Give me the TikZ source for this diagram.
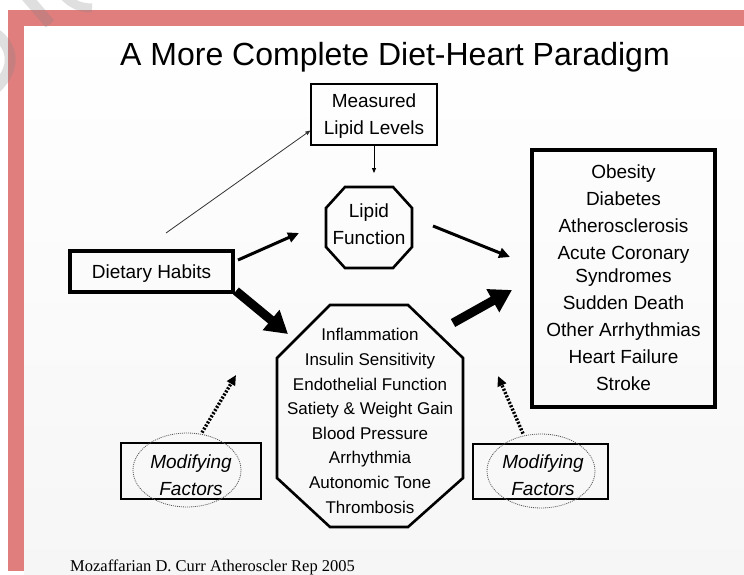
\documentclass[tikz,border=0pt]{standalone}
\usepackage{fontspec}
\setmainfont{Liberation Sans}
\newfontfamily\citefont{Liberation Serif}
\usetikzlibrary{arrows.meta,shapes.geometric}
\definecolor{band}{RGB}{224,126,126}
\begin{document}
\begin{tikzpicture}[x=1pt,y=-1pt,
  body/.style={font=\fontsize{19}{27}\selectfont, align=center, inner sep=0pt},
  box/.style={draw, line width=1.2pt, body},
  heavybox/.style={draw, line width=4pt, body},
  octo/.style={draw, line width=2.6pt, line join=miter},
  thinarr/.style={line width=0.8pt, -{Triangle[length=5pt,width=4pt]}},
  medarr/.style={line width=3pt, -{Triangle[length=11pt,width=10pt]}},
  bigarr/.style={line width=9pt, -{Triangle[length=22pt,width=25pt]}},
  dotarr/.style={line width=3.4pt, dash pattern=on 2pt off 1.6pt, -{Triangle[length=10pt,width=9pt]}},
  dotell/.style={ellipse, draw, gray!70!black, line width=0.8pt, dash pattern=on 1pt off 1pt, minimum width=108pt, minimum height=74pt, inner sep=0pt}
]
\useasboundingbox (0,0) rectangle (744,575);
\fill[white] (0,0) rectangle (744,575);
\shade[top color=white, bottom color=gray!7] (24,26) rectangle (744,575);
\fill[band] (8,10) rectangle (744,26);
\fill[band] (8,26) rectangle (24,571);
% watermark strokes
\draw[gray, opacity=0.25, line width=11pt] (26,-4) -- (50,24);
\draw[gray, opacity=0.25, line width=9pt] (64,-4) .. controls (72,4) and (80,8) .. (92,8);
\draw[gray, opacity=0.25, line width=11pt] (-4,34) .. controls (14,48) and (16,68) .. (-4,88);

% title
\node[font=\fontsize{32}{38}\selectfont, anchor=base, inner sep=0pt] (title) at (395,66) {A More Complete Diet-Heart Paradigm};

% boxes
\node[box, minimum width=126pt, minimum height=61pt] (meas) at (374,114.5) {};
\node[body] (meastext) at (374,116.5) {Measured\\Lipid Levels};
\node[heavybox, minimum width=163pt, minimum height=41pt] (diet) at (151.5,271.5) {};
\node[body] (diettext) at (151.5,274) {Dietary Habits};
\node[heavybox, minimum width=183pt, minimum height=257pt] (out) at (623.5,278.5) {};
\node[body, anchor=base] (outtext) at (623.5,390) {Obesity\\Diabetes\\Atherosclerosis\\Acute Coronary\\[-4pt]Syndromes\\Sudden Death\\Other Arrhythmias\\Heart Failure\\Stroke};

% lipid function octagon
\draw[octo] (345,187) -- (393,187) -- (412,208) -- (412,247) -- (393,268) -- (345,268) -- (326,247) -- (326,208) -- cycle;
\node[body] (lf) at (369,224) {Lipid\\Function};

% mechanisms octagon
\draw[octo] (330,305) -- (408,305) -- (463,358) -- (463,478) -- (408,527) -- (330,527) -- (277,478) -- (277,358) -- cycle;
\node[font=\fontsize{17}{24.6}\selectfont, align=center, inner sep=0pt] (mech) at (370,421) {Inflammation\\Insulin Sensitivity\\Endothelial Function\\Satiety \& Weight Gain\\Blood Pressure\\Arrhythmia\\Autonomic Tone\\Thrombosis};

% modifying factors
\node[draw, line width=1.1pt, minimum width=140pt, minimum height=56pt] (modl) at (191,471) {};
\node[dotell] (elll) at (187,470) {};
\node[body, font=\fontsize{19}{27}\selectfont\itshape] (modltext) at (191,475) {Modifying\\Factors};
\node[draw, line width=1.1pt, minimum width=135pt, minimum height=55pt] (modr) at (540.5,471.5) {};
\node[dotell] (ellr) at (541,471) {};
\node[body, font=\fontsize{19}{27}\selectfont\itshape] (modrtext) at (543,475) {Modifying\\Factors};

% connectors
\coordinate (a1s) at (166,233);
\draw[thinarr, gray!40!black] (a1s) -- ([yshift=-16pt]meas.west);
\coordinate (a2e) at (374,173);
\draw[thinarr] (meas.south) -- (a2e);
\coordinate (a3s) at (238,260); \coordinate (a3e) at (299,233);
\draw[medarr] (a3s) -- (a3e);
\coordinate (a4s) at (433,226); \coordinate (a4e) at (510,257);
\draw[medarr] (a4s) -- (a4e);
\coordinate (a5s) at (236,291); \coordinate (a5e) at (288,334);
\draw[bigarr] (a5s) -- (a5e);
\coordinate (a6s) at (453,323); \coordinate (a6e) at (512,290);
\draw[bigarr] (a6s) -- (a6e);
\coordinate (d1e) at (236,375);
\draw[dotarr] (elll.north) ++(15,0) -- (d1e);
\coordinate (d2e) at (498,376);
\draw[dotarr] (ellr.north) ++(-18,0) -- (d2e);

% citation
\node[font=\citefont\fontsize{16.5}{20}\selectfont, anchor=base west, inner sep=0pt] (cite) at (70,571) {Mozaffarian D. Curr Atheroscler Rep 2005};
\end{tikzpicture}
\end{document}
